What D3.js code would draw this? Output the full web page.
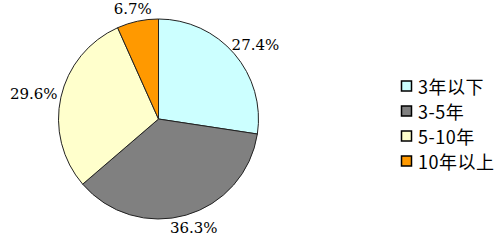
<!DOCTYPE html>
<html lang="zh">
<head>
<meta charset="UTF-8">
<script src="https://cdn.jsdelivr.net/npm/d3@7/dist/d3.min.js"></script>
<style>
    body { margin: 0; background: white; }
    svg { display: block; }
    .label { font-family: "DejaVu Serif", "Liberation Serif", serif; font-size: 15px; fill: #000; }
    .legend text { font-family: "Noto Sans CJK SC", sans-serif; font-size: 18px; letter-spacing: 0.5px; fill: #000; }
</style>
</head>
<body>
<div id="chart"></div>
<script>
    const categories = ["3年以下", "3-5年", "5-10年", "10年以上"];
    const values = [27.4, 36.3, 29.6, 6.7];
    const labels = ["27.4%", "36.3%", "29.6%", "6.7%"];
    const colors = ["#ccffff", "#808080", "#ffffcc", "#ff9900"];

    const width = 502, height = 242;
    const cx = 158.5, cy = 119, radius = 100;

    const svg = d3.select("#chart").append("svg")
        .attr("width", width)
        .attr("height", height);

    const pie = d3.pie().sort(null).value(d => d)(values);
    const arc = d3.arc().innerRadius(0).outerRadius(radius);

    const g = svg.append("g").attr("transform", `translate(${cx},${cy})`);

    g.selectAll("path")
        .data(pie)
        .enter()
        .append("path")
        .attr("d", arc)
        .attr("fill", (d, i) => colors[i])
        .attr("stroke", "#222")
        .attr("stroke-width", 1);

    // labels sit just outside the rim, nudged by half their box along the mid angle
    const gap = 104;
    g.selectAll(".label")
        .data(pie)
        .enter()
        .append("text")
        .attr("class", "label")
        .text((d, i) => labels[i])
        .attr("text-anchor", "middle")
        .attr("dominant-baseline", "central")
        .each(function (d) {
            const a = (d.startAngle + d.endAngle) / 2;
            const box = this.getBBox();
            const x = Math.sin(a) * (gap + box.width / 2);
            const y = -Math.cos(a) * (gap + box.height / 2);
            d3.select(this).attr("x", x).attr("y", y);
        });

    const legend = svg.append("g").attr("class", "legend")
        .attr("transform", "translate(401,86)");

    const rows = legend.selectAll("g")
        .data(categories)
        .enter()
        .append("g")
        .attr("transform", (d, i) => `translate(0,${i * 25})`);

    rows.append("rect")
        .attr("x", 0.5)
        .attr("y", -5)
        .attr("width", 10)
        .attr("height", 10)
        .attr("fill", (d, i) => colors[i])
        .attr("stroke", "#000")
        .attr("stroke-width", 1.5);

    rows.append("text")
        .attr("x", 17)
        .attr("y", 0)
        .attr("dominant-baseline", "central")
        .text(d => d);
</script>
</body>
</html>
